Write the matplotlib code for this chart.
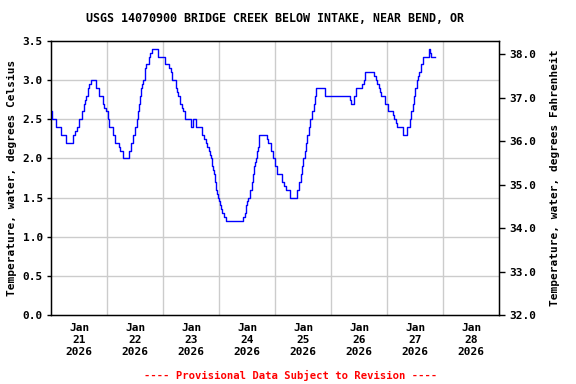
import matplotlib
matplotlib.use("Agg")
import matplotlib.pyplot as plt
import numpy as np

# Change points: hours since 2026-01-21 00:00, water temperature (deg C)
hours = [0, 0.5, 1.9, 4.0, 6.4, 9.4, 10.3, 10.9, 11.7, 13.2, 13.9, 14.3, 14.7, 15.6, 16.3, 16.9,
         19.2, 20.6, 22.0, 22.7, 23.3, 24.2, 24.9, 26.3, 27.4, 28.9, 29.5, 30.9, 33.4, 34.3, 35.2,
         36.0, 36.6, 37.0, 37.6, 38.0, 38.6, 39.0, 39.4, 40.0, 40.6, 41.9, 42.4, 43.3, 45.9, 48.9,
         50.6, 51.2, 51.9, 53.3, 54.0, 54.4, 55.2, 56.0, 56.6, 57.4, 59.7, 60.9, 61.9, 64.7, 65.45,
         66.2, 66.9, 67.5, 68.0, 68.45, 68.9, 69.4, 69.9, 70.3, 70.6, 71.15, 71.6, 72.0, 72.4, 72.9,
         73.3, 74.15, 74.9, 82.3, 82.9, 83.45, 84.0, 84.4, 85.2, 85.9, 86.3, 86.75, 87.3, 87.7, 88.2,
         88.6, 89.15, 92.3, 93.0, 94.0, 94.9, 95.9, 96.9, 98.75, 99.7, 100.6, 102.3, 105.4, 106.3,
         106.9, 107.45, 108.0, 108.6, 109.2, 109.7, 110.3, 110.9, 111.7, 112.5, 113.0, 113.5, 117.45,
         128.0, 128.6, 129.9, 130.7, 133.3, 133.9, 134.6, 138.4, 139.0, 139.6, 140.3, 140.9, 141.4,
         142.9, 144.3, 146.3, 146.9, 147.7, 148.3, 150.9, 152.3, 153.7, 154.0, 154.9, 155.3, 156.0,
         156.6, 157.2, 157.7, 158.3, 159.2, 161.7, 162.2, 162.6, 164.6]
temps_c = [2.6, 2.5, 2.4, 2.3, 2.2, 2.3, 2.35, 2.4, 2.5, 2.6, 2.7, 2.75, 2.8, 2.9, 2.95, 3.0,
           2.9, 2.8, 2.7, 2.65, 2.6, 2.5, 2.4, 2.3, 2.2, 2.15, 2.1, 2.0, 2.1, 2.2, 2.3,
           2.4, 2.5, 2.6, 2.7, 2.8, 2.9, 2.95, 3.0, 3.15, 3.2, 3.3, 3.35, 3.4, 3.3, 3.2,
           3.15, 3.1, 3.0, 2.9, 2.85, 2.8, 2.7, 2.65, 2.6, 2.5, 2.4, 2.5, 2.4, 2.3, 2.25,
           2.2, 2.15, 2.1, 2.05, 2.0, 1.9, 1.85, 1.8, 1.7, 1.6, 1.55, 1.5, 1.45, 1.4, 1.35,
           1.3, 1.25, 1.2, 1.25, 1.3, 1.4, 1.45, 1.5, 1.6, 1.7, 1.8, 1.9, 1.95, 2.0, 2.1,
           2.15, 2.3, 2.25, 2.2, 2.1, 2.0, 1.9, 1.8, 1.7, 1.65, 1.6, 1.5, 1.6, 1.7,
           1.8, 1.9, 2.0, 2.1, 2.2, 2.3, 2.4, 2.5, 2.6, 2.7, 2.8, 2.9, 2.8,
           2.75, 2.7, 2.8, 2.9, 2.95, 3.0, 3.1, 3.05, 3.0, 2.95, 2.9, 2.85, 2.8,
           2.7, 2.6, 2.55, 2.5, 2.45, 2.4, 2.3, 2.4, 2.5, 2.6, 2.7, 2.8, 2.9,
           3.0, 3.05, 3.1, 3.2, 3.3, 3.4, 3.35, 3.3, 3.3]

day_labels = ["Jan\n21\n2026", "Jan\n22\n2026", "Jan\n23\n2026", "Jan\n24\n2026",
              "Jan\n25\n2026", "Jan\n26\n2026", "Jan\n27\n2026", "Jan\n28\n2026"]
c_ticks = [0.0, 0.5, 1.0, 1.5, 2.0, 2.5, 3.0, 3.5]
f_ticks = [32.0, 33.0, 34.0, 35.0, 36.0, 37.0, 38.0]

title = "USGS 14070900 BRIDGE CREEK BELOW INTAKE, NEAR BEND, OR"
footer = "---- Provisional Data Subject to Revision ----"

MONO = "DejaVu Sans Mono"
plt.rcParams['font.family'] = MONO
plt.rcParams['font.weight'] = 'bold'

fig = plt.figure(figsize=(5.76, 3.84), dpi=100)
ax = fig.add_axes([51.3 / 576, 1 - 315 / 384, 448 / 576, 274 / 384])

days = np.array(hours) / 24.0
ax.plot(days, temps_c, drawstyle='steps-post', color='#0000ff', lw=1.0, zorder=3)

ax.set_xlim(0, 8)
ax.set_ylim(0, 3.5)

# grid: vertical at midnights, horizontal at 0.5 C
for d in range(1, 8):
    ax.axvline(d, color='#cccccc', lw=1.0, zorder=1)
for c in c_ticks[1:-1]:
    ax.axhline(c, color='#cccccc', lw=1.0, zorder=1)

ax.set_xticks([i + 0.5 for i in range(8)])
ax.set_xticklabels(day_labels, fontsize=8, fontweight='bold', linespacing=1.25)
ax.tick_params(axis='x', length=0, pad=6)

ax.set_yticks(c_ticks)
ax.set_yticklabels([f"{c:.1f}" for c in c_ticks], fontsize=8, fontweight='bold')
ax.tick_params(axis='y', direction='out', length=3, width=1, pad=3)

for s in ax.spines.values():
    s.set_linewidth(1.0)
    s.set_color('black')

ax2 = ax.twinx()
ax2.set_ylim(32, 32 + 3.5 * 1.8)
ax2.set_yticks(f_ticks)
ax2.set_yticklabels([f"{f:.1f}" for f in f_ticks], fontsize=8, fontweight='bold')
ax2.tick_params(axis='y', direction='out', length=4, width=1, pad=3)

ax.set_ylabel("Temperature, water, degrees Celsius", fontsize=8, fontweight='bold', labelpad=4)
ax2.set_ylabel("Temperature, water, degrees Fahrenheit", fontsize=8, fontweight='bold', labelpad=10)

fig.text(0.5 * (85 + 465) / 576, 1 - 19 / 384, title, ha='center', va='center',
         fontsize=8.4, fontweight='bold')
fig.text(291 / 576, 1 - 375 / 384, footer, ha='center', va='center',
         fontsize=7.6, fontweight='bold', color='#ff0000')

fig.savefig("out.png", dpi=100)
